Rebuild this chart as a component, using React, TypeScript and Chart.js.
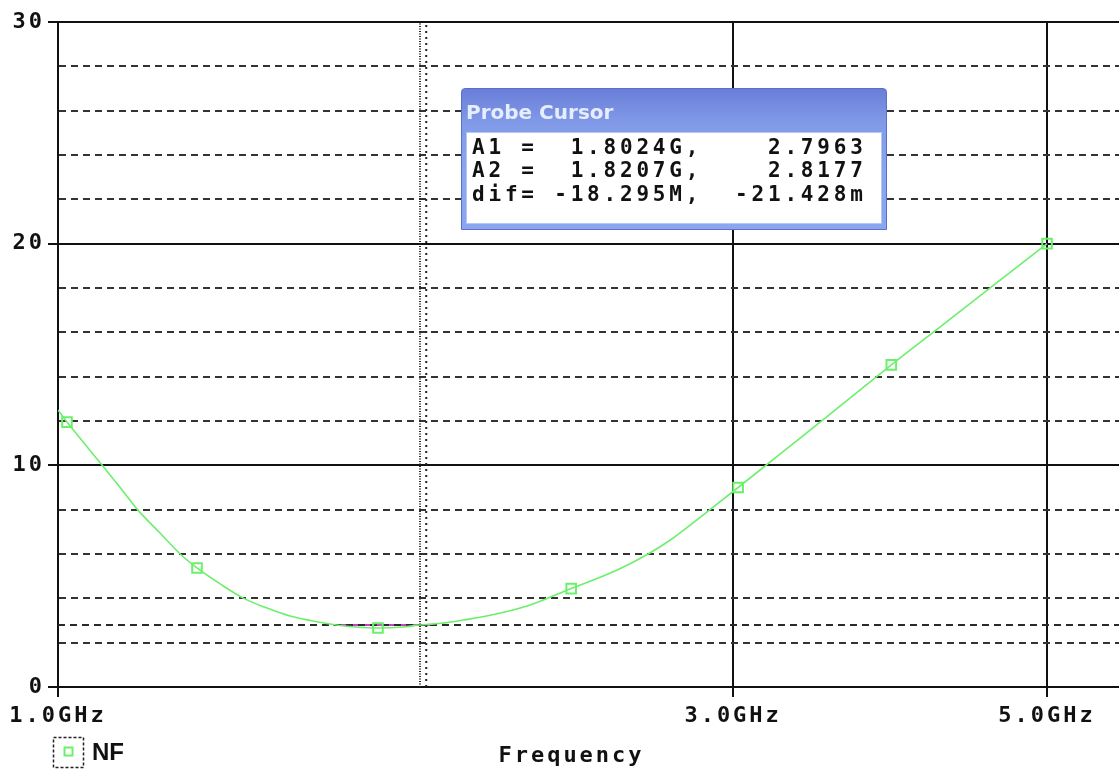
import React, { useEffect, useRef } from 'react';
import { Chart, registerables } from 'chart.js';

Chart.register(...registerables);

// ---- data (frequency in GHz, noise figure in dB) ----
const freqGHz = [
  1.0, 1.0147, 1.0398, 1.0742, 1.1062, 1.139, 1.1805, 1.2199, 1.2538, 1.3019, 1.3516, 1.4053,
  1.4587, 1.5076, 1.5648, 1.6212, 1.6831, 1.7536, 1.8024, 1.8207, 1.8868, 1.9335, 2.0398,
  2.1456, 2.3051, 2.4843, 2.6127, 2.707, 2.8757, 3.0246, 3.3457, 3.6007, 3.8808, 4.2021,
  4.5963, 5.0,
];
const noiseFigure = [
  12.5, 11.95, 11.12, 10.01, 9.01, 7.98, 6.95, 6.0, 5.37, 4.65, 4.01, 3.56,
  3.2, 3.0, 2.82, 2.71, 2.66, 2.71, 2.7963, 2.8177, 2.91, 3.02, 3.29,
  3.65, 4.44, 5.28, 6.0, 6.62, 7.9, 9.0, 11.23, 12.86, 14.53, 16.25,
  18.19, 20.0,
];
const markerFreqGHz = [1.0147, 1.2538, 1.6831, 2.3051, 3.0246, 3.8808, 5.0];
const markerNF = [11.95, 5.37, 2.66, 4.44, 9.0, 14.53, 20.0];

const xTickValues = [1.0, 3.0, 5.0];
const xMin = 1.0;
const xMax = 5.623;
const yMin = 0;
const yMax = 30;
const yStep = 2;
const yMajor = 10;

const cursorFreqGHz = [1.8024, 1.8207];
const cursorNF = [2.7963, 2.8177];
const highlightFreqGHz = [1.565, 1.84];
const highlightNF = 2.8;

const cursorLabels = ['A1 =', 'A2 =', 'dif='];
const cursorFreqText = ['1.8024G', '1.8207G', '-18.295M'];
const cursorValText = ['2.7963', '2.8177', '-21.428m'];

const seriesName = 'NF';
const xTitle = 'Frequency';
const boxTitle = 'Probe Cursor';

const GREEN = '#6cf06c';
const INK = '#111111';
const MONO = '"DejaVu Sans Mono", "Liberation Mono", monospace';
const PAGE_W = 1119;
const PAGE_H = 771;

const spacingPlugin = {
  id: 'pspiceSpacing',
  beforeUpdate(chart: any) {
    chart.ctx.letterSpacing = '3px';
  },
  beforeDraw(chart: any) {
    chart.ctx.letterSpacing = '3px';
  },
};

const extrasPlugin = {
  id: 'pspiceExtras',
  afterDraw(chart: any) {
    const ctx = chart.ctx;
    const xs = chart.scales.x;
    ctx.save();
    // x axis title
    ctx.letterSpacing = '3px';
    ctx.font = `bold 22px ${MONO}`;
    ctx.fillStyle = INK;
    ctx.textAlign = 'center';
    ctx.textBaseline = 'alphabetic';
    ctx.fillText(xTitle, (xs.left + Math.min(xs.right, PAGE_W)) / 2 - 17, 762);
    // legend
    ctx.letterSpacing = '0px';
    ctx.strokeStyle = '#222';
    ctx.lineWidth = 1.5;
    ctx.setLineDash([3, 2]);
    ctx.strokeRect(53.5, 737.5, 30, 30);
    ctx.setLineDash([]);
    ctx.strokeStyle = GREEN;
    ctx.lineWidth = 2;
    ctx.strokeRect(64.5, 747.5, 8, 8);
    ctx.fillStyle = INK;
    ctx.textAlign = 'left';
    ctx.font = 'bold 24px "Liberation Sans", Arial, sans-serif';
    ctx.fillText(seriesName, 92, 760);
    ctx.restore();
  },
};

function ProbeCursor() {
  const rows = cursorLabels.map(
    (l, i) => l + cursorFreqText[i].padStart(9) + ',' + cursorValText[i].padStart(10)
  );
  return (
    <div
      style={{
        position: 'absolute',
        left: 461,
        top: 88,
        width: 426,
        height: 142,
        boxSizing: 'border-box',
        background: 'linear-gradient(#6a7ed8 0%, #819be8 25%, #8aa6ee 60%, #8aa6ee 100%)',
        border: '1px solid #5c6ecb',
        borderRadius: '4px 4px 0 0',
      }}
    >
      <div
        style={{
          position: 'absolute',
          left: 4,
          top: 11,
          font: 'bold 20px "DejaVu Sans", Verdana, sans-serif',
          color: '#e6edff',
          whiteSpace: 'nowrap',
        }}
      >
        {boxTitle}
      </div>
      <div
        style={{
          position: 'absolute',
          left: 4,
          top: 43,
          width: 416,
          height: 92,
          background: '#ffffff',
          boxSizing: 'border-box',
          border: '1px solid #b9c6f2',
        }}
      >
        <pre
          style={{
            margin: 0,
            padding: '3px 0 0 5px',
            font: `bold 21px/23.3px ${MONO}`,
            letterSpacing: '3.8px',
            color: INK,
          }}
        >
          {rows.join('\n')}
        </pre>
      </div>
    </div>
  );
}

export default function App() {
  const canvasRef = useRef<HTMLCanvasElement | null>(null);

  useEffect(() => {
    document.body.style.margin = '0';
    const canvas = canvasRef.current;
    if (!canvas) return;

    const isMajor = (v: number) => Math.abs(v % yMajor) < 1e-9;

    const chart = new Chart(canvas, {
      type: 'line',
      data: {
        datasets: [
          {
            label: 'markers',
            data: markerFreqGHz.map((f, i) => ({ x: f, y: markerNF[i] })),
            showLine: false,
            pointStyle: 'rect',
            pointRadius: 6.8,
            pointBorderWidth: 2,
            pointBorderColor: GREEN,
            pointBackgroundColor: 'rgba(255,255,255,0)',
            order: 0,
          },
          {
            label: seriesName,
            data: freqGHz.map((f, i) => ({ x: f, y: noiseFigure[i] })),
            borderColor: GREEN,
            borderWidth: 1.6,
            pointRadius: 0,
            cubicInterpolationMode: 'monotone',
            order: 1,
          },
          {
            label: 'A1 level',
            data: [
              { x: xMin, y: cursorNF[0] },
              { x: xMax, y: cursorNF[0] },
            ],
            borderColor: '#2a2a2a',
            borderWidth: 2,
            borderDash: [7, 5],
            pointRadius: 0,
            order: 3,
          },
          {
            label: 'A2 level',
            data: [
              { x: xMin, y: cursorNF[1] },
              { x: xMax, y: cursorNF[1] },
            ],
            borderColor: '#2a2a2a',
            borderWidth: 1,
            borderDash: [7, 5],
            pointRadius: 0,
            order: 3,
          },
          {
            label: 'span',
            data: [
              { x: highlightFreqGHz[0], y: highlightNF },
              { x: highlightFreqGHz[1], y: highlightNF },
            ],
            borderColor: '#d23cd2',
            borderWidth: 2,
            pointRadius: 0,
            order: 5,
          },
          {
            label: 'A1',
            data: [
              { x: cursorFreqGHz[0], y: yMin },
              { x: cursorFreqGHz[0], y: yMax },
            ],
            borderColor: '#222',
            borderWidth: 2,
            borderDash: [1, 1.5],
            pointRadius: 0,
            order: 4,
          },
          {
            label: 'A2',
            data: [
              { x: cursorFreqGHz[1], y: yMin },
              { x: cursorFreqGHz[1], y: yMax },
            ],
            borderColor: '#222',
            borderWidth: 2,
            borderDash: [2, 4],
            pointRadius: 0,
            order: 4,
          },
        ],
      },
      options: {
        animation: false,
        responsive: false,
        maintainAspectRatio: false,
        events: [],
        layout: { padding: { top: 22, right: 0, left: 0, bottom: 0 } },
        plugins: {
          legend: { display: false },
          tooltip: { enabled: false },
          title: { display: false },
        },
        scales: {
          x: {
            type: 'logarithmic',
            min: xMin,
            max: xMax,
            afterBuildTicks: (scale: any) => {
              scale.ticks = xTickValues.map((v) => ({ value: v }));
            },
            afterFit: (scale: any) => {
              scale.height = 84;
              scale.paddingLeft = 0;
              scale.paddingRight = 0;
            },
            ticks: {
              autoSkip: false,
              maxRotation: 0,
              padding: 6,
              color: INK,
              font: { family: MONO, weight: 'bold', size: 22 },
              callback: (v: any) => Number(v).toFixed(1) + 'GHz',
            },
            grid: {
              color: INK,
              lineWidth: 2,
              tickLength: 10,
              tickColor: INK,
              tickWidth: 2,
            },
            border: { display: true, color: INK, width: 2 },
          },
          y: {
            type: 'linear',
            min: yMin,
            max: yMax,
            afterFit: (scale: any) => {
              scale.width = 58;
              scale.paddingTop = 0;
              scale.paddingBottom = 0;
            },
            ticks: {
              stepSize: yStep,
              autoSkip: false,
              padding: 3,
              color: INK,
              font: { family: MONO, weight: 'bold', size: 22 },
              callback: (v: any) => (isMajor(Number(v)) ? String(v) : ''),
            },
            grid: {
              color: (c: any) => (c.tick && isMajor(c.tick.value) ? INK : '#333333'),
              lineWidth: 2,
              tickLength: 10,
              tickWidth: 2,
              tickColor: (c: any) =>
                c.tick && isMajor(c.tick.value) ? INK : 'rgba(0,0,0,0)',
            },
            border: {
              display: true,
              color: INK,
              width: 2,
              dash: (c: any) => (c.tick && !isMajor(c.tick.value) ? [7, 5] : []),
            },
          },
        },
      },
      plugins: [spacingPlugin, extrasPlugin],
    } as any);

    // Chart.js reserves a few pixels on the right for the last tick label;
    // widen the (clipped) canvas so the plot area runs to the page edge.
    const gap = PAGE_W - chart.chartArea.right;
    if (gap > 0.5) {
      chart.resize(PAGE_W + Math.round(gap), PAGE_H);
    }

    return () => chart.destroy();
  }, []);

  return (
    <div
      style={{
        position: 'relative',
        width: PAGE_W,
        height: PAGE_H,
        background: '#fff',
        overflow: 'hidden',
      }}
    >
      <canvas ref={canvasRef} width={PAGE_W} height={PAGE_H} style={{ display: 'block' }} />
      <ProbeCursor />
    </div>
  );
}
